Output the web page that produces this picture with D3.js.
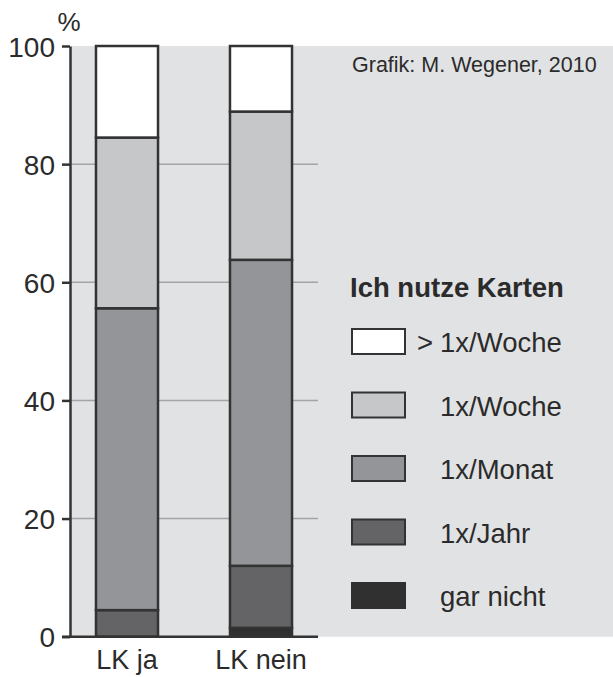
<!DOCTYPE html>
<meta charset='utf-8'>
<head>
<script src='https://d3js.org/d3.v7.min.js'></script>
<style>
  body{
    margin: 0;
    background: #fff;
  }
  svg text{
    font-family: 'Liberation Sans', Arial, sans-serif;
    fill: #2b2b2b;
  }
</style>
</head>
<body>
<svg id="chart"></svg>
<script>

  // Data (percent)
  var categories = ['LK ja', 'LK nein'];
  var series = ['gar nicht', '1x/Jahr', '1x/Monat', '1x/Woche', '>1x/Woche'];
  var garNicht = [0, 1.5];
  var proJahr = [4.5, 10.5];
  var proMonat = [51.1, 51.8];
  var proWoche = [28.9, 25.1];
  var mehrWoche = [15.5, 11.1];
  var yTicks = [0, 20, 40, 60, 80, 100];
  var colors = ['#313031', '#646466', '#949598', '#c6c7c9', '#ffffff'];

  var width = 613,
      height = 677;

  var values = [garNicht, proJahr, proMonat, proWoche, mehrWoche];
  var data = categories.map(function(c, i) {
    var row = {type: c};
    series.forEach(function(s, j) { row[s] = values[j][i]; });
    return row;
  });

  var svg = d3.select('#chart')
      .attr('width', width)
      .attr('height', height);

  var x = d3.scaleBand()
      .domain(categories)
      .range([60, 328])
      .paddingInner(0.537)
      .paddingOuter(0.2685);

  var y = d3.scaleLinear()
      .domain([0, 100])
      .range([636.7, 46]);

  var color = d3.scaleOrdinal()
      .domain(series)
      .range(colors);

  // Grey panel
  svg.append('rect')
      .attr('x', 71)
      .attr('y', y(100))
      .attr('width', width - 71)
      .attr('height', y(0) - y(100))
      .attr('fill', '#e1e2e4');

  // Grid lines
  svg.append('g')
    .selectAll('line')
    .data(yTicks.filter(function(d) { return d > 0 && d < 100; }))
    .enter().append('line')
      .attr('x1', 71)
      .attr('x2', 318)
      .attr('y1', function(d) { return y(d); })
      .attr('y2', function(d) { return y(d); })
      .attr('stroke', '#a3a4a6')
      .attr('stroke-width', 1.5);

  // Stacked bars
  var stack = d3.stack().keys(series);

  svg.append('g')
    .selectAll('g')
    .data(stack(data))
    .enter().append('g')
      .attr('fill', function(d) { return color(d.key); })
    .selectAll('rect')
    .data(function(d) { return d.filter(function(p) { return p[1] - p[0] > 0; }); })
    .enter().append('rect')
      .attr('x', function(d) { return x(d.data.type); })
      .attr('y', function(d) { return y(d[1]); })
      .attr('width', x.bandwidth())
      .attr('height', function(d) { return y(d[0]) - y(d[1]); })
      .attr('stroke', '#333')
      .attr('stroke-width', 2.5);

  // Y axis
  var yAxis = svg.append('g')
      .attr('transform', 'translate(70,0)')
      .call(d3.axisLeft(y).tickValues(yTicks).tickSize(8).tickSizeOuter(0).tickPadding(7));

  yAxis.select('.domain')
      .attr('stroke', '#333')
      .attr('stroke-width', 2.5);
  yAxis.selectAll('.tick line')
      .attr('stroke', '#333')
      .attr('stroke-width', 2.5);
  yAxis.selectAll('.tick text')
      .style('font-size', '28px')
      .attr('dy', '0.36em')
      .style('fill', '#2b2b2b');

  // Baseline
  svg.append('line')
      .attr('x1', 62)
      .attr('x2', 318)
      .attr('y1', y(0))
      .attr('y2', y(0))
      .attr('stroke', '#333')
      .attr('stroke-width', 2.5);

  // Category labels
  svg.append('g')
    .selectAll('text')
    .data(categories)
    .enter().append('text')
      .attr('x', function(d) { return x(d) + x.bandwidth() / 2; })
      .attr('y', 669)
      .attr('text-anchor', 'middle')
      .style('font-size', '27px')
      .text(function(d) { return d; });

  // Unit
  svg.append('text')
      .attr('x', 69)
      .attr('y', 31)
      .attr('text-anchor', 'middle')
      .style('font-size', '26px')
      .text('%');

  // Credit
  svg.append('text')
      .attr('x', 352)
      .attr('y', 72)
      .style('font-size', '21.5px')
      .text('Grafik: M. Wegener, 2010');

  // Legend
  svg.append('text')
      .attr('x', 350)
      .attr('y', 297)
      .style('font-size', '27.5px')
      .style('font-weight', 'bold')
      .text('Ich nutze Karten');

  var legend = svg.append('g')
    .selectAll('g')
    .data(series.slice().reverse())
    .enter().append('g')
      .attr('transform', function(d, i) { return 'translate(352,' + (329 + i * 63.5) + ')'; });

  legend.append('rect')
      .attr('width', 53)
      .attr('height', 25)
      .attr('fill', function(d) { return color(d); })
      .attr('stroke', function(d) { return d === 'gar nicht' ? color(d) : '#333'; })
      .attr('stroke-width', 2);

  legend.append('text')
      .attr('x', 88)
      .attr('y', 23)
      .style('font-size', '27.5px')
      .text(function(d) { return d.replace('>', ''); });

  legend.filter(function(d) { return d.charAt(0) === '>'; })
    .append('text')
      .attr('x', 65)
      .attr('y', 23)
      .style('font-size', '27.5px')
      .text('>');

</script>
</body>
</html>
